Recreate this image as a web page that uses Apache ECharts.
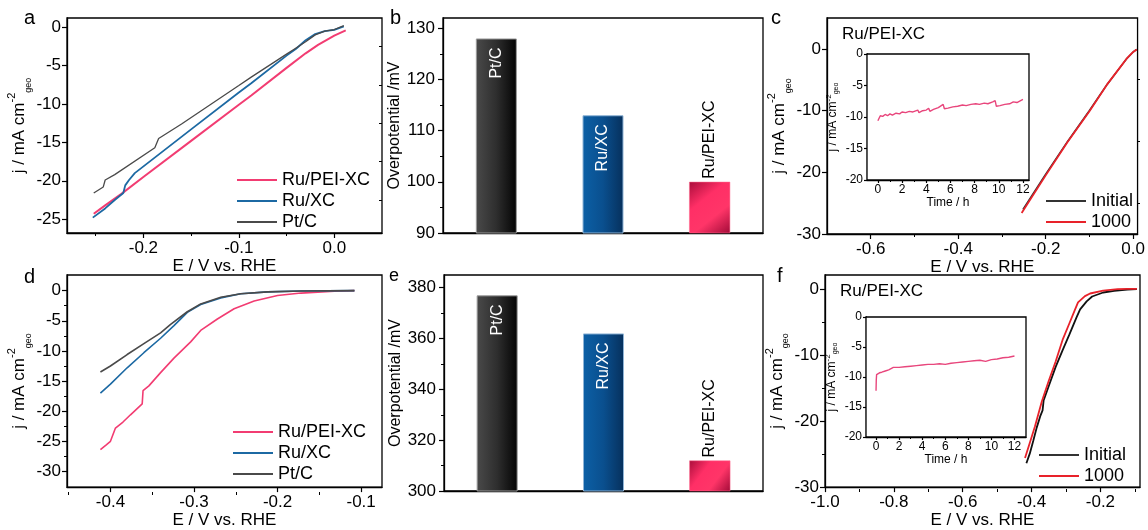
<!DOCTYPE html>
<html>
<head>
<meta charset="utf-8">
<script src="https://cdn.jsdelivr.net/npm/echarts@6/dist/echarts.min.js"></script>
<style>
html,body{margin:0;padding:0;background:#fff}
#main{width:1148px;height:530px}
</style>
</head>
<body>
<div id="main"></div>
<script>
// panel a: HER polarisation (E, j)
const aPEI = [[-0.252,-24.3],[-0.24,-23.2],[-0.223,-21.7],[-0.2,-19.5],[-0.15,-14.8],[-0.1,-10.1],[-0.087,-8.9],[-0.05,-5.3],[-0.03,-3.4],[-0.017,-2.3],[0,-1.1],[0.012,-0.4]]
const aRuXC = [[-0.253,-24.8],[-0.24,-23.6],[-0.23,-22.5],[-0.221,-21.6],[-0.219,-20.6],[-0.215,-19.9],[-0.209,-19.0],[-0.15,-13.3],[-0.1,-8.5],[-0.087,-7.3],[-0.05,-3.7],[-0.04,-2.8],[-0.03,-1.7],[-0.02,-0.9],[-0.01,-0.5],[0,-0.35],[0.01,0.1]]
const aPtC = [[-0.252,-21.6],[-0.242,-20.8],[-0.24,-19.9],[-0.23,-19.2],[-0.188,-15.7],[-0.184,-14.5],[-0.16,-12.6],[-0.1,-7.6],[-0.087,-6.5],[-0.05,-3.5],[-0.04,-2.7],[-0.03,-1.9],[-0.02,-1.0],[-0.01,-0.5],[0,-0.3],[0.01,0.2]]
// panel b / e: overpotential bars
const cats = ['Pt/C','Ru/XC','Ru/PEI-XC']
const bVals = [128,113,100]
const eVals = [377,362,312]
// panel c: stability, CV cycles
const cInit = [[-0.252,-26.0],[-0.2,-20.3],[-0.15,-15.0],[-0.1,-10.0],[-0.06,-5.8],[-0.03,-3.0],[-0.015,-1.6],[0,-0.5],[0.008,-0.1]]
const c1000 = [[-0.255,-26.6],[-0.2,-20.5],[-0.15,-15.1],[-0.1,-10.1],[-0.06,-5.8],[-0.03,-3.0],[-0.015,-1.6],[0,-0.5],[0.008,-0.1]]
const cTime = [[0,-10.6],[0.1,-10.2],[0.2,-9.8],[0.4,-9.9],[0.6,-9.6],[0.8,-9.8],[1.0,-9.5],[1.2,-9.7],[1.5,-9.4],[1.8,-9.5],[2.0,-9.2],[2.3,-9.3],[2.6,-9.1],[2.9,-9.2],[3.3,-8.9],[3.4,-9.3],[3.7,-9.0],[4.0,-8.9],[4.2,-8.6],[4.3,-9.1],[4.6,-8.8],[5.0,-8.5],[5.4,-8.0],[5.5,-8.7],[5.8,-8.6],[6.2,-8.4],[6.6,-8.3],[7.0,-8.1],[7.3,-8.2],[7.7,-8.0],[8.1,-7.9],[8.4,-8.0],[8.8,-7.8],[9.1,-7.9],[9.5,-7.6],[9.7,-7.4],[9.8,-8.3],[10.1,-8.2],[10.5,-8.0],[10.9,-7.9],[11.2,-7.6],[11.5,-7.7],[12.0,-7.2]]
// panel d
const dPEI = [[-0.412,-26.4],[-0.405,-25.6],[-0.4,-25.0],[-0.394,-22.8],[-0.385,-21.8],[-0.376,-20.6],[-0.362,-18.8],[-0.361,-16.6],[-0.354,-15.8],[-0.34,-13.6],[-0.324,-11.2],[-0.304,-8.5],[-0.292,-6.6],[-0.272,-4.7],[-0.252,-3.0],[-0.228,-1.7],[-0.2,-0.8],[-0.172,-0.4],[-0.132,-0.1],[-0.108,0]]
const dRuXC = [[-0.412,-17.0],[-0.4,-15.5],[-0.38,-12.8],[-0.36,-10.3],[-0.34,-7.9],[-0.324,-5.8],[-0.308,-3.6],[-0.292,-2.3],[-0.268,-1.2],[-0.244,-0.5],[-0.212,-0.2],[-0.172,-0.05],[-0.108,0]]
const dPtC = [[-0.412,-13.5],[-0.4,-12.5],[-0.38,-10.6],[-0.36,-8.8],[-0.34,-7.0],[-0.328,-5.6],[-0.308,-3.5],[-0.292,-2.2],[-0.268,-1.1],[-0.244,-0.5],[-0.212,-0.2],[-0.172,-0.05],[-0.108,0]]
// panel f
const fInit = [[-0.415,-26.4],[-0.405,-24.9],[-0.395,-23.0],[-0.385,-21.0],[-0.375,-19.3],[-0.368,-18.4],[-0.365,-16.9],[-0.35,-14.7],[-0.33,-11.8],[-0.31,-9.3],[-0.29,-6.9],[-0.27,-4.4],[-0.259,-3.1],[-0.24,-1.9],[-0.224,-1.15],[-0.192,-0.55],[-0.16,-0.3],[-0.122,-0.1],[-0.094,-0.05]]
const f1000 = [[-0.419,-25.6],[-0.405,-23.3],[-0.39,-20.8],[-0.37,-17.0],[-0.35,-13.9],[-0.33,-11.0],[-0.309,-7.6],[-0.29,-5.2],[-0.275,-3.3],[-0.265,-2.05],[-0.245,-1.1],[-0.23,-0.7],[-0.192,-0.25],[-0.15,-0.05],[-0.122,0],[-0.094,0]]
const fTime = [[0,-12.3],[0.02,-10.5],[0.05,-9.6],[0.15,-9.8],[0.3,-9.3],[0.5,-9.2],[0.8,-9.0],[1.1,-8.8],[1.5,-8.4],[2.0,-8.4],[2.5,-8.3],[3.0,-8.2],[3.5,-8.1],[4.0,-8.0],[4.5,-7.9],[5.0,-7.9],[5.5,-7.8],[6.0,-7.9],[6.5,-7.7],[7.0,-7.6],[7.5,-7.5],[8.0,-7.4],[8.5,-7.3],[9.0,-7.2],[9.5,-7.4],[10.0,-7.1],[10.5,-7.0],[11.0,-6.8],[11.5,-6.7],[12.0,-6.5]]

const FF = '"Liberation Sans", Arial, Helvetica, sans-serif'
const PINK = '#f23c72', BLUE = '#1c69a3', GRAY = '#4a4a4a', RED = '#e8222a', INS = '#e8467c'

const grids = [
  {left:67, top:18, width:315, height:215},
  {left:443, top:18, width:320, height:215},
  {left:827, top:18, width:313, height:216},
  {left:67, top:275, width:315, height:217},
  {left:444, top:275, width:319, height:216},
  {left:825, top:275, width:315, height:214},
  {left:867, top:54, width:162, height:126, backgroundColor:'#fff'},
  {left:866, top:317, width:160, height:120, backgroundColor:'#fff'}
].map(g => Object.assign({show:true, borderColor:'#000', borderWidth:1.3, backgroundColor:'transparent', z:g.backgroundColor ? 3 : 0}, g))

let xAxes = [], yAxes = []
// main axis + a second, label-less axis for the minor ticks.
// the grid flips a second axis to the other side, so it is parked there and pulled back with offset
function ax(list, gi, min, max, majors, minors, o){
  o = o || {}
  let idx = list.length
  let tl = o.tick || 5
  let isX = o.pos == 'bottom'
  list.push({
    type:'value', gridIndex:gi, min:min, max:max, position:o.pos,
    axisLine:{show:true, onZero:false, lineStyle:{color:'#000', width:1.3}},
    axisTick:{show:true, length:tl, customValues:majors, lineStyle:{color:'#000', width:1.2}},
    axisLabel:{show:true, customValues:majors, color:'#000', fontFamily:FF, fontSize:o.fs||17, margin:o.margin||6,
      formatter:o.fmt || (v => String(v))},
    splitLine:{show:false},
    name:o.name||'', nameLocation:'middle', nameGap:o.gap||30, nameTextStyle:o.nameStyle
  })
  if(minors) list.push({
    type:'value', gridIndex:gi, min:min, max:max,
    position: isX ? 'top' : 'right',
    offset: -(isX ? grids[gi].height : grids[gi].width),
    axisLine:{show:false}, axisLabel:{show:false}, splitLine:{show:false},
    axisTick:{show:true, inside:true, length:Math.round(tl*0.6), customValues:minors, lineStyle:{color:'#000', width:1}}
  })
  return idx
}
function catAx(gi){
  let idx = xAxes.length
  xAxes.push({type:'category', gridIndex:gi, data:cats, position:'bottom',
    axisLine:{lineStyle:{color:'#000', width:1.3}}, axisTick:{show:false}, axisLabel:{show:false}})
  return idx
}
const f1 = v => v.toFixed(1)
const xName = {color:'#000', fontFamily:FF, fontSize:17}
const jName = (fs, sup, sub, lh) => ({
  color:'#000', fontFamily:FF, fontSize:fs, lineHeight:lh,
  rich:{
    t:{fontFamily:FF, fontSize:fs, color:'#000', lineHeight:lh},
    sup:{fontFamily:FF, fontSize:sup, color:'#000', verticalAlign:'top', lineHeight:lh},
    sub:{fontFamily:FF, fontSize:sub, color:'#000', verticalAlign:'bottom', lineHeight:lh}
  }
})
const J = '{t|j / mA cm}{sup|-2}{sub|geo}'

// a
const xa = ax(xAxes, 0, -0.28, 0.05, [-0.2,-0.1,0], [-0.25,-0.15,-0.05], {pos:'bottom', fmt:f1, name:'E / V vs. RHE', gap:23, nameStyle:xName, margin:7})
const ya = ax(yAxes, 0, -26.8, 1.2, [-25,-20,-15,-10,-5,0], [-22.5,-17.5,-12.5,-7.5,-2.5], {pos:'left', name:J, gap:33, nameStyle:jName(17,11,9,26)})
// b
const xb = catAx(1)
const yb = ax(yAxes, 1, 90, 132, [90,100,110,120,130], [95,105,115,125], {pos:'left', margin:8, name:'Overpotential /mV', gap:36, nameStyle:{color:'#000', fontFamily:FF, fontSize:16}})
// c
const xc = ax(xAxes, 2, -0.7, 0.01, [-0.6,-0.4,-0.2,0], [-0.5,-0.3,-0.1], {pos:'bottom', fmt:f1, name:'E / V vs. RHE', gap:23, nameStyle:xName, margin:7})
const yc = ax(yAxes, 2, -30, 5, [-30,-20,-10,0], [-25,-15,-5], {pos:'left', name:J, gap:33, nameStyle:jName(17,11,9,26)})
// d
const xd = ax(xAxes, 3, -0.452, -0.075, [-0.4,-0.3,-0.2,-0.1], [-0.45,-0.35,-0.25,-0.15], {pos:'bottom', fmt:f1, name:'E / V vs. RHE', gap:24, nameStyle:xName, margin:7})
const yd = ax(yAxes, 3, -32.6, 2.6, [-30,-25,-20,-15,-10,-5,0], [-27.5,-22.5,-17.5,-12.5,-7.5,-2.5], {pos:'left', name:J, gap:33, nameStyle:jName(17,11,9,26)})
// e
const xe = catAx(4)
const ye = ax(yAxes, 4, 300, 385, [300,320,340,360,380], [310,330,350,370], {pos:'left', margin:8, name:'Overpotential /mV', gap:35, nameStyle:{color:'#000', fontFamily:FF, fontSize:16}})
// f
const xf = ax(xAxes, 5, -1.0, -0.085, [-1,-0.8,-0.6,-0.4,-0.2], [-0.9,-0.7,-0.5,-0.3,-0.1], {pos:'bottom', fmt:f1, name:'E / V vs. RHE', gap:23, nameStyle:xName, margin:7})
const yf = ax(yAxes, 5, -30, 2.1, [-30,-20,-10,0], [-25,-15,-5], {pos:'left', name:J, gap:35, nameStyle:jName(17,11,9,26)})
// insets
const insX = {color:'#000', fontFamily:FF, fontSize:12}
const xci = ax(xAxes, 6, -0.9, 12.5, [0,2,4,6,8,10,12], [1,3,5,7,9,11], {pos:'bottom', fs:12, tick:3, margin:4, name:'Time / h', gap:14, nameStyle:insX})
const yci = ax(yAxes, 6, -20, 0, [-20,-15,-10,-5,0], [-17.5,-12.5,-7.5,-2.5], {pos:'left', fs:12, tick:3, margin:4, name:J, gap:27, nameStyle:jName(12,8,7,15)})
const xfi = ax(xAxes, 7, -0.87, 13.0, [0,2,4,6,8,10,12], [1,3,5,7,9,11], {pos:'bottom', fs:12, tick:3, margin:4, name:'Time / h', gap:14, nameStyle:insX})
const yfi = ax(yAxes, 7, -20, 0, [-20,-15,-10,-5,0], [-17.5,-12.5,-7.5,-2.5], {pos:'left', fs:12, tick:3, margin:4, name:J, gap:27, nameStyle:jName(12,8,7,15)})

function line(name, xi, yi, data, color, w, z){
  return {type:'line', name:name, xAxisIndex:xi, yAxisIndex:yi, data:data, symbol:'none', showSymbol:false,
    lineStyle:{color:color, width:w}, itemStyle:{color:color}, z:z||2, animation:false}
}
const grad = (x2, y2, stops) => ({type:'linear', x:0, y:0, x2:x2, y2:y2, colorStops:stops.map(s => ({offset:s[0], color:s[1]}))})
const barStyles = [
  {color:grad(1,0,[[0,'#4a4a4a'],[0.5,'#2e2e2e'],[1,'#030303']]), borderColor:'#9a9a9a', borderWidth:1},
  {color:grad(1,0,[[0,'#0c60a6'],[0.5,'#0a4f8e'],[1,'#06305c']]), borderColor:'#8fb4d6', borderWidth:1},
  {color:grad(1,1,[[0,'#a90d3b'],[0.35,'#ff2f66'],[0.65,'#ff3568'],[1,'#a20b38']]), borderColor:'#ff6a8e', borderWidth:0.5}
]
function barData(vals){
  return vals.map((v, i) => ({
    value:v, itemStyle:barStyles[i],
    label: i < 2
      ? {show:true, position:'insideTop', rotate:90, align:'right', verticalAlign:'middle', distance:9, color:'#fff', fontFamily:FF, fontSize:16, formatter:'{b}'}
      : {show:true, position:'top', rotate:90, align:'left', verticalAlign:'middle', distance:3, color:'#000', fontFamily:FF, fontSize:16, formatter:'{b}'}
  }))
}

const series = [
  line('Ru/PEI-XC', xa, ya, aPEI, PINK, 2),
  line('Ru/XC', xa, ya, aRuXC, BLUE, 1.8),
  line('Pt/C', xa, ya, aPtC, GRAY, 1.3),
  {type:'bar', xAxisIndex:xb, yAxisIndex:yb, data:barData(bVals), barWidth:41, animation:false},
  line('Initial', xc, yc, cInit, '#333333', 1.6),
  line('1000', xc, yc, c1000, RED, 1.8, 3),
  line('Ru/PEI-XC', xd, yd, dPEI, PINK, 1.6),
  line('Ru/XC', xd, yd, dRuXC, BLUE, 1.6),
  line('Pt/C', xd, yd, dPtC, GRAY, 1.6),
  {type:'bar', xAxisIndex:xe, yAxisIndex:ye, data:barData(eVals), barWidth:41, animation:false},
  line('Initial', xf, yf, fInit, '#111111', 1.8),
  line('1000', xf, yf, f1000, RED, 1.8, 3),
  line('cyc', xci, yci, cTime, INS, 1.4, 4),
  line('cyf', xfi, yfi, fTime, INS, 1.4, 4)
]

const legText = {fontFamily:FF, fontSize:18, color:'#000'}
const leg = (names, left, top) => ({data:names, left:left, top:top, orient:'vertical', icon:'rect', itemWidth:40, itemHeight:2,
  itemGap:3, padding:0, selectedMode:false, textStyle:legText})

const txt = (s, x, y, fs) => ({type:'text', left:x, top:y, style:{text:s, font:fs + 'px ' + FF, fill:'#000'}})

const option = {
  backgroundColor:'#fff',
  animation:false,
  grid:grids,
  xAxis:xAxes,
  yAxis:yAxes,
  series:series,
  legend:[
    leg(['Ru/PEI-XC','Ru/XC','Pt/C'], 237, 171),
    leg(['Initial','1000'], 1046, 192),
    leg(['Ru/PEI-XC','Ru/XC','Pt/C'], 233, 423),
    leg(['Initial','1000'], 1039, 446)
  ],
  graphic:[
    txt('a', 24, 8, 20), txt('b', 390, 8, 20), txt('c', 771, 8, 20),
    txt('d', 24, 267, 20), txt('e', 389, 267, 18), txt('f', 777, 266, 20),
    txt('Ru/PEI-XC', 842, 26, 17), txt('Ru/PEI-XC', 840, 283, 17)
  ]
}

const chart = echarts.init(document.getElementById('main'))
chart.setOption(option)
</script>
</body>
</html>
